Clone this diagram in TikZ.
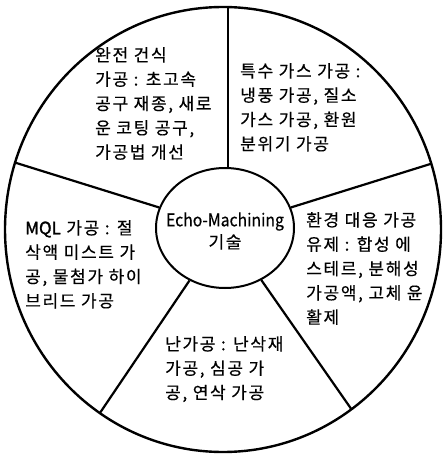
\documentclass[tikz,border=0pt]{standalone}
\usepackage{fontspec}
\setmainfont{Noto Sans CJK KR}[LetterSpace=10,FakeBold=0.4]
\newfontfamily\latinf{Noto Sans CJK KR}[FakeStretch=0.9,FakeBold=0.4]
\newfontfamily\latinb{Noto Sans CJK KR}[FakeBold=1.6]
\usetikzlibrary{shapes.geometric,calc}
\begin{document}
\begin{tikzpicture}[x=1pt,y=-1pt,
  txt/.style={anchor=north west, inner sep=0pt, align=left, text=black, font=\fontsize{17}{24.3}\selectfont},
  hub/.style={ellipse, draw, line width=2pt, minimum width=138pt, minimum height=120pt, inner sep=0pt},
  hubtxt/.style={inner sep=0pt, align=center, text=black, font=\fontsize{17}{22}\selectfont},
  rim/.style={line width=2.4pt},
  spoke/.style={line width=2.2pt}]
\useasboundingbox (0,0) rectangle (444,454);
\coordinate (O) at (223,229.5);
\draw[rim] (O) ellipse [x radius=218pt, y radius=222.5pt];
\coordinate (p1) at ($(O)+(197.5:218 and 222.5)$);
\coordinate (p2) at ($(O)+(342.8:218 and 222.5)$);
\coordinate (p3) at ($(O)+(124.4:218 and 222.5)$);
\coordinate (p4) at ($(O)+(53.9:218 and 222.5)$);
\coordinate (p5) at ($(O)+(271.3:218 and 222.5)$);
\node[hub] (c) at (225,228) {};
\node[hubtxt] (ct) at (225,231) {{\latinf\fontsize{17.5}{22}\selectfont Echo-Machining}\\기술};
\draw[spoke] (p1) -- (c);
\draw[spoke] (p2) -- (c);
\draw[spoke] (p3) -- (c);
\draw[spoke] (p4) -- (c);
\draw[spoke] (p5) -- (p5 |- c.north);
\node[txt] (t1) at (95,47) {완전 건식\\가공 : 초고속\\공구 재종, 새로\\운 코팅 공구,\\가공법 개선};
\node[txt] (t2) at (240,63) {특수 가스 가공 :\\냉풍 가공, 질소\\가스 가공, 환원\\분위기 가공};
\node[txt] (t3) at (306,212) {환경 대응 가공\\유제 : 합성 에\\스테르, 분해성\\가공액, 고체 윤\\활제};
\node[txt] (t4) at (25,220) {{\latinb MQL} 가공 : 절\\삭액 미스트 가\\공, 물첨가 하이\\브리드 가공};
\node[txt] (t5) at (165,336) {난가공 : 난삭재\\가공, 심공 가\\공, 연삭 가공};
\end{tikzpicture}
\end{document}
